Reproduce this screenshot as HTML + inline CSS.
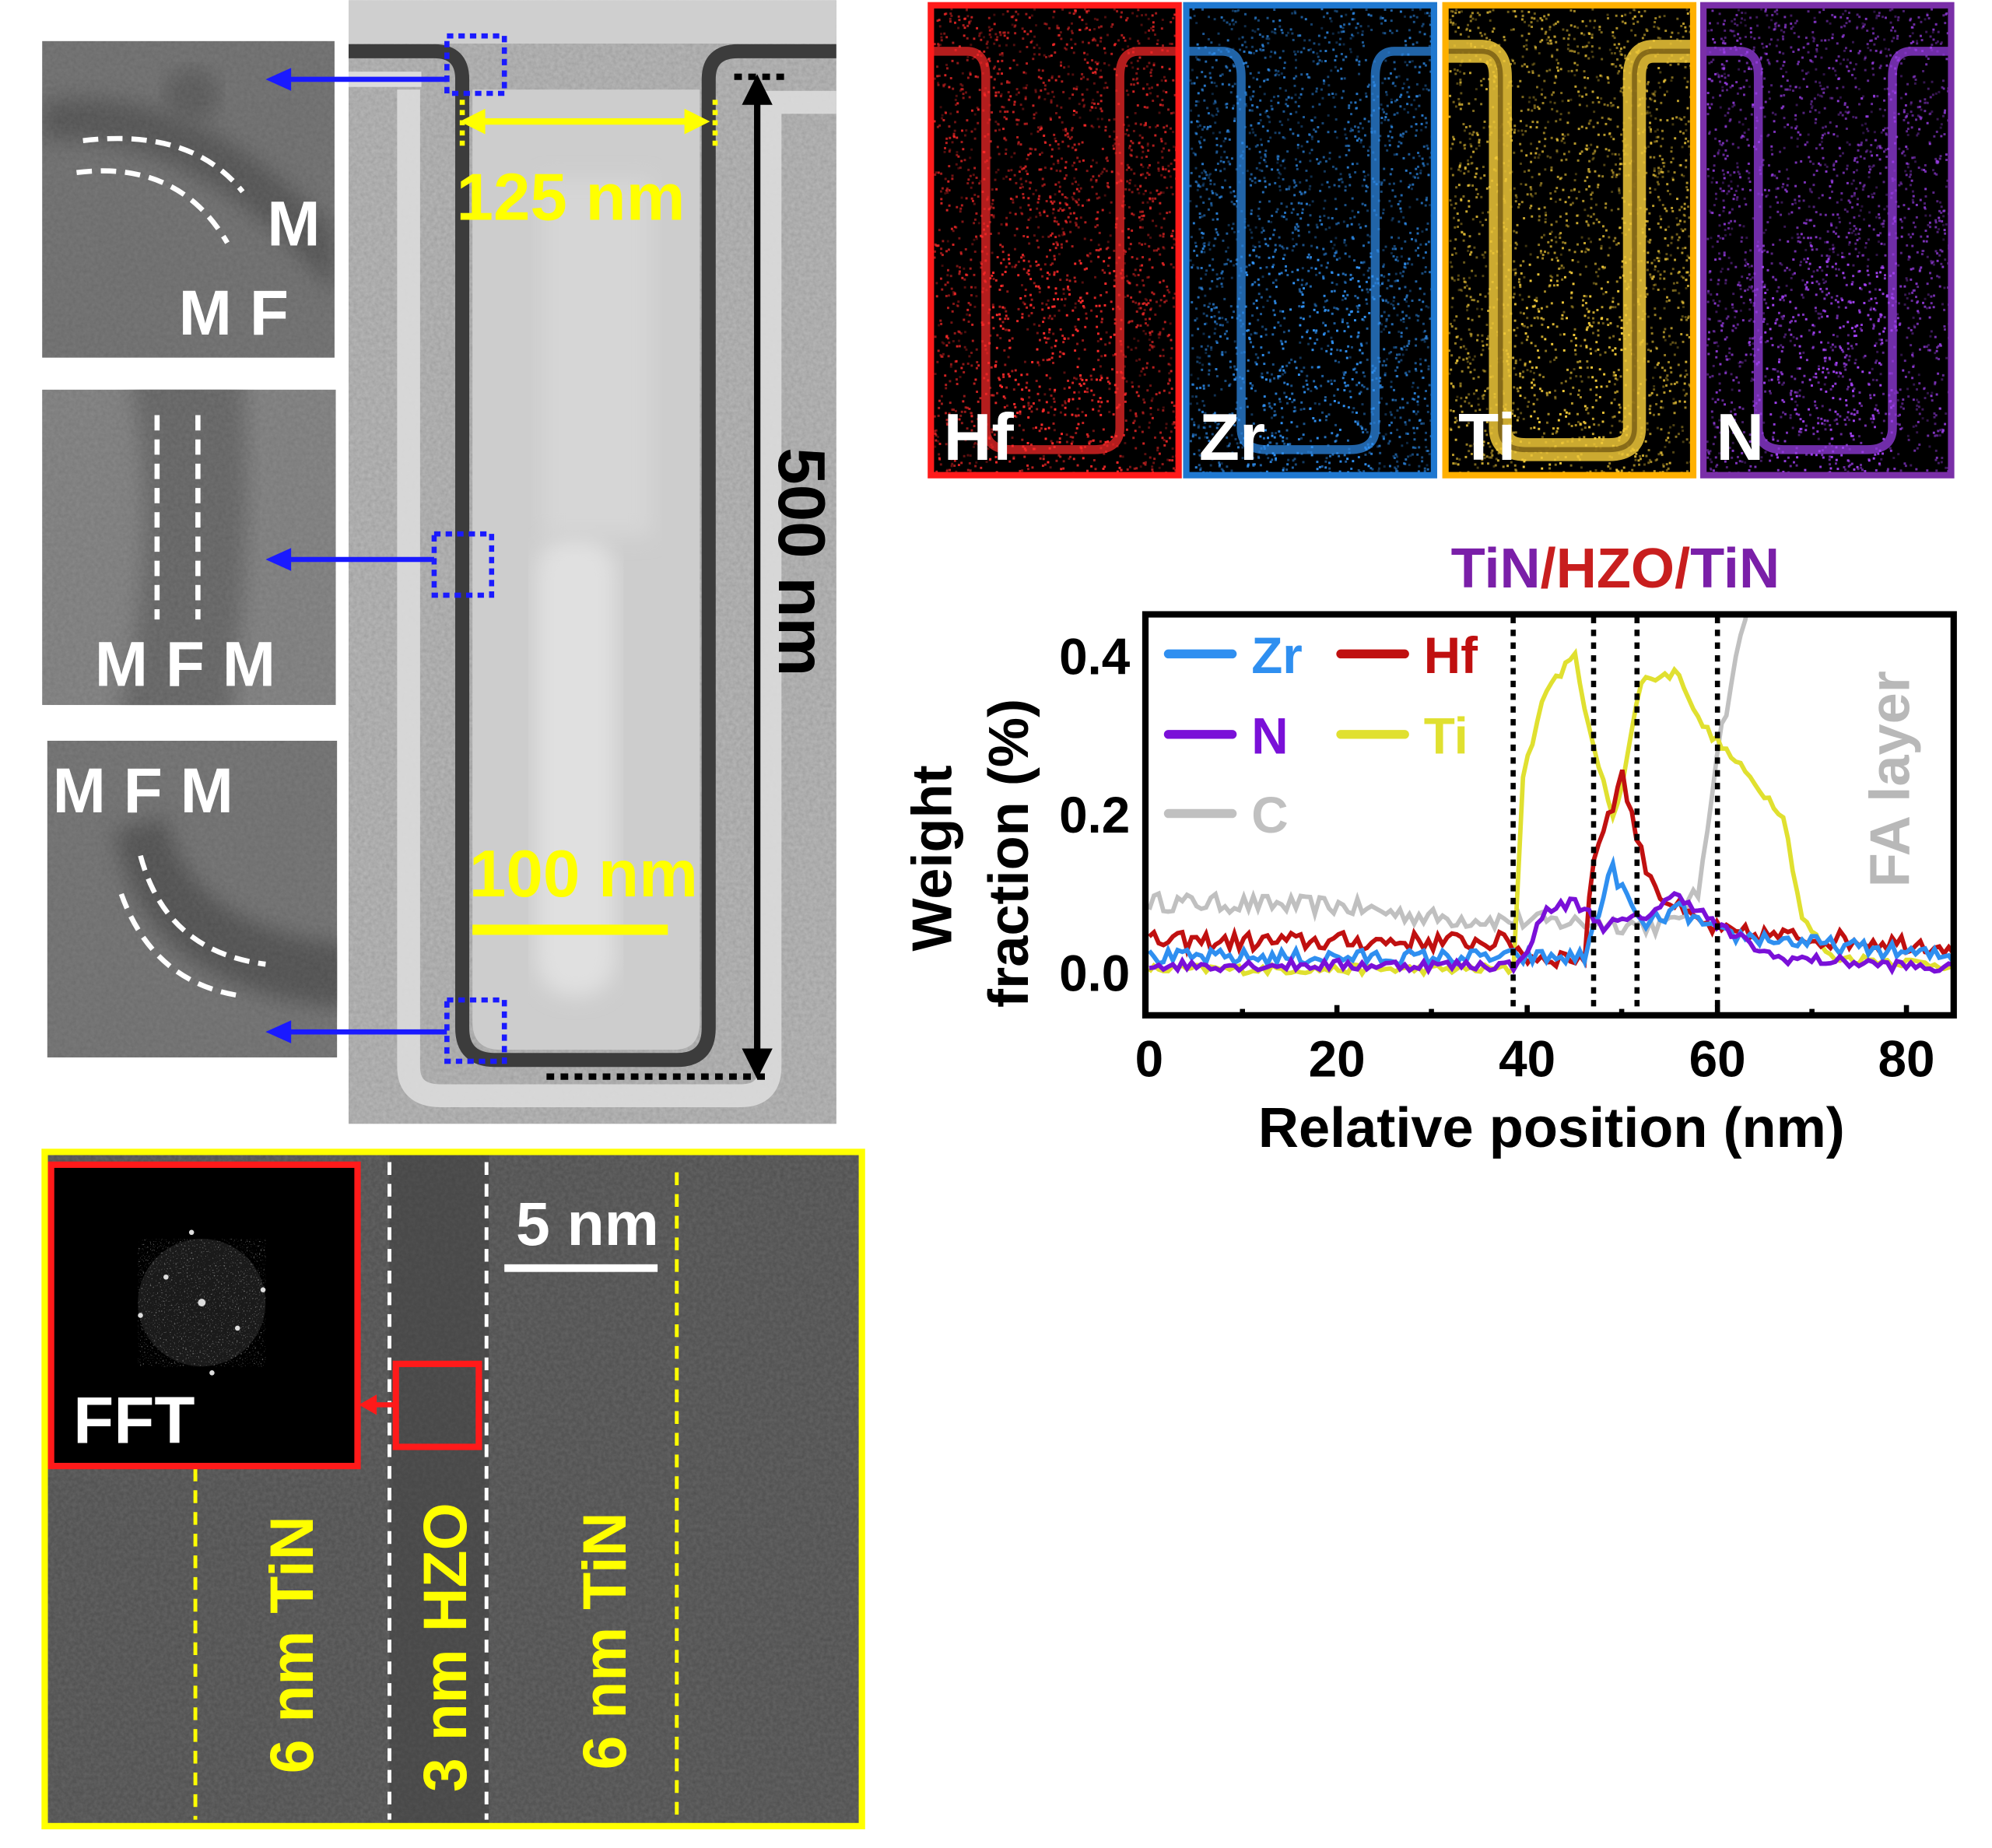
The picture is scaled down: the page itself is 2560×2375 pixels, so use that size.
<!DOCTYPE html>
<html><head><meta charset="utf-8">
<style>
html,body{margin:0;padding:0;background:#fff;}
svg{display:block;}
text{font-family:"Liberation Sans",Arial,sans-serif;font-weight:bold;}
</style></head>
<body>
<svg id="s" width="2560" height="2375" viewBox="0 0 1560 1447" xmlns="http://www.w3.org/2000/svg">
<defs>
 <filter id="n1" x="0" y="0" width="100%" height="100%">
  <feTurbulence type="fractalNoise" baseFrequency="0.35" numOctaves="2" seed="3"/>
  <feColorMatrix type="matrix" values="0 0 0 0 0.5  0 0 0 0 0.5  0 0 0 0 0.5  0 0 0 0.9 0"/>
  <feComposite in2="SourceGraphic" operator="in"/>
  <feBlend in="SourceGraphic" mode="multiply"/>
 </filter>
 <filter id="dots" x="0" y="0" width="100%" height="100%">
  <feTurbulence type="fractalNoise" baseFrequency="0.9" numOctaves="1" seed="7" result="t"/>
  <feColorMatrix in="t" type="matrix" values="0 0 0 0 1  0 0 0 0 1  0 0 0 0 1  6 0 0 0 -3.6"/>
 </filter>
 <filter id="bl"><feGaussianBlur stdDeviation="8"/></filter>
 <clipPath id="cc"><rect x="897" y="483" width="631" height="310"/></clipPath>
 <clipPath id="c1"><rect x="33" y="32" width="229" height="248"/></clipPath>
 <clipPath id="c2"><rect x="33" y="305" width="230" height="247"/></clipPath>
 <clipPath id="c3"><rect x="37" y="580" width="227" height="248"/></clipPath>
 <clipPath id="cm"><rect x="273" y="0" width="382" height="880"/></clipPath>
</defs>

<g clip-path="url(#cm)">
<rect x="273" y="0" width="382" height="880" fill="#b4b4b4"/>
<rect x="273" y="0" width="382" height="880" fill="#bcbcbc" filter="url(#n1)" opacity="0.6"/>
<rect x="273" y="0" width="382" height="34" fill="#cfcfcf"/>
<path d="M320,70 V835 Q320,858 345,858 H580 Q603,858 603,835 V80 H655" fill="none" stroke="#dcdcdc" stroke-width="18" opacity="0.9"/>
<path d="M273,62 H330" stroke="#dcdcdc" stroke-width="12"/>
<path d="M370,70 V800 Q370,822 392,822 H528 Q548,822 548,800 V70Z" fill="#cdcdcd"/>
<rect x="420" y="420" width="62" height="360" rx="28" fill="#e0e0e0" filter="url(#bl)"/>
<rect x="425" y="140" width="85" height="280" fill="#d6d6d6" filter="url(#bl)"/>
<path d="M273,40 H340 Q362,40 362,62 V805 Q362,830 388,830 H530 Q555,830 555,805 V62 Q555,40 578,40 H655" fill="none" stroke="#3c3c3c" stroke-width="11"/>
</g>

<g clip-path="url(#c1)">
 <rect x="33" y="32" width="229" height="248" fill="#7a7a7a"/>
 <path d="M33,110 Q150,100 262,230 V180 Q150,60 33,80Z" fill="#4a4a4a" filter="url(#bl)"/>
 <circle cx="150" cy="75" r="22" fill="#555" filter="url(#bl)"/>
 <rect x="33" y="32" width="229" height="248" fill="#777" filter="url(#n1)" opacity="0.5"/>
 <path d="M65,110 Q150,100 190,150" fill="none" stroke="#fff" stroke-width="4" stroke-dasharray="12,7"/>
 <path d="M60,135 Q140,125 178,190" fill="none" stroke="#fff" stroke-width="4" stroke-dasharray="12,7"/>
 <text x="230" y="192" font-size="50" fill="#fff" text-anchor="middle">M</text>
 <text x="183" y="262" font-size="50" fill="#fff" text-anchor="middle">M F</text>
</g>
<g clip-path="url(#c2)">
 <rect x="33" y="305" width="230" height="247" fill="#8a8a8a"/>
 <path d="M100,290 Q130,420 90,570 H180 Q200,420 190,290Z" fill="#5a5a5a" filter="url(#bl)"/>
 <rect x="33" y="305" width="230" height="247" fill="#888" filter="url(#n1)" opacity="0.5"/>
 <line x1="123" y1="325" x2="123" y2="485" stroke="#fff" stroke-width="4" stroke-dasharray="12,7"/>
 <line x1="155" y1="325" x2="155" y2="485" stroke="#fff" stroke-width="4" stroke-dasharray="12,7"/>
 <text x="145" y="537" font-size="50" fill="#fff" text-anchor="middle">M F M</text>
</g>
<g clip-path="url(#c3)">
 <rect x="37" y="580" width="227" height="248" fill="#7e7e7e"/>
 <path d="M90,650 Q110,780 280,790 V740 Q150,730 130,640Z" fill="#444" filter="url(#bl)"/>
 <rect x="37" y="580" width="227" height="248" fill="#777" filter="url(#n1)" opacity="0.5"/>
 <path d="M110,670 Q130,745 208,755" fill="none" stroke="#fff" stroke-width="4" stroke-dasharray="12,7"/>
 <path d="M95,700 Q120,770 190,780" fill="none" stroke="#fff" stroke-width="4" stroke-dasharray="12,7"/>
 <text x="112" y="636" font-size="50" fill="#fff" text-anchor="middle">M F M</text>
</g>

<g fill="none" stroke="#1a1aff" stroke-width="4" stroke-dasharray="5,4">
 <rect x="350" y="28" width="45" height="45"/>
 <rect x="340" y="418" width="45" height="48"/>
 <rect x="350" y="783" width="45" height="48"/>
</g>
<g stroke="#1a1aff" stroke-width="4" fill="#1a1aff">
 <line x1="350" y1="62" x2="225" y2="62"/><polygon points="208,62 228,53 228,71" stroke="none"/>
 <line x1="340" y1="438" x2="225" y2="438"/><polygon points="208,438 228,429 228,447" stroke="none"/>
 <line x1="350" y1="808" x2="225" y2="808"/><polygon points="208,808 228,799 228,817" stroke="none"/>
</g>
<line x1="378" y1="95" x2="540" y2="95" stroke="#ffff00" stroke-width="5"/>
<polygon points="360,95 380,85 380,105" fill="#ffff00"/><polygon points="556,95 536,85 536,105" fill="#ffff00"/>
<line x1="362" y1="78" x2="362" y2="115" stroke="#ffff00" stroke-width="4" stroke-dasharray="4,4"/>
<line x1="560" y1="78" x2="560" y2="115" stroke="#ffff00" stroke-width="4" stroke-dasharray="4,4"/>
<text x="447" y="172" font-size="52" fill="#ffff00" text-anchor="middle">125 nm</text>
<line x1="575" y1="60" x2="615" y2="60" stroke="#000" stroke-width="5" stroke-dasharray="6,5"/>
<line x1="428" y1="843" x2="600" y2="843" stroke="#000" stroke-width="5" stroke-dasharray="6,5"/>
<line x1="593" y1="78" x2="593" y2="825" stroke="#000" stroke-width="5"/>
<polygon points="593,58 581,82 605,82" fill="#000"/><polygon points="593,845 581,821 605,821" fill="#000"/>
<text transform="translate(610,440) rotate(90)" font-size="52" fill="#000" text-anchor="middle">500 nm</text>
<text x="457" y="702" font-size="52" fill="#ffff00" text-anchor="middle">100 nm</text>
<rect x="370" y="724" width="153" height="8" fill="#ffff00"/>

<rect x="35" y="902" width="640" height="528" fill="#575757"/>
<rect x="35" y="902" width="640" height="528" fill="#666" filter="url(#n1)" opacity="0.9"/>
<rect x="305" y="902" width="78" height="528" fill="#3e3e3e" opacity="0.5"/>
<rect x="35" y="902" width="640" height="528" fill="none" stroke="#ffff00" stroke-width="5"/>
<g stroke="#ffff00" stroke-width="3" stroke-dasharray="10,7">
 <line x1="153" y1="1150" x2="153" y2="1425"/><line x1="530" y1="918" x2="530" y2="1425"/>
</g>
<g stroke="#fff" stroke-width="3" stroke-dasharray="10,7">
 <line x1="305" y1="910" x2="305" y2="1425"/><line x1="381" y1="910" x2="381" y2="1425"/>
</g>
<text transform="translate(245,1288) rotate(-90)" font-size="48" fill="#ffff00" text-anchor="middle">6 nm TiN</text>
<text transform="translate(365,1290) rotate(-90)" font-size="48" fill="#ffff00" text-anchor="middle">3 nm HZO</text>
<text transform="translate(490,1285) rotate(-90)" font-size="48" fill="#ffff00" text-anchor="middle">6 nm TiN</text>
<text x="460" y="975" font-size="48" fill="#fff" text-anchor="middle">5 nm</text>
<rect x="395" y="990" width="120" height="6" fill="#fff"/>
<rect x="310" y="1068" width="65" height="65" fill="none" stroke="#ff1a1a" stroke-width="5"/>
<line x1="310" y1="1100" x2="292" y2="1100" stroke="#ff1a1a" stroke-width="4"/>
<polygon points="281,1100 295,1092 295,1108" fill="#ff1a1a"/>
<rect x="40" y="912" width="240" height="236" fill="#000" stroke="#ff1a1a" stroke-width="5"/>
<circle cx="158" cy="1020" r="50" fill="#1a1a1a"/>
<circle cx="158" cy="1020" r="50" fill="#fff" filter="url(#dots)" opacity="0.4"/>
<g fill="#ddd"><circle cx="158" cy="1020" r="3"/><circle cx="130" cy="1000" r="2"/><circle cx="186" cy="1040" r="2"/><circle cx="150" cy="965" r="2"/><circle cx="166" cy="1075" r="2"/><circle cx="110" cy="1030" r="2"/><circle cx="206" cy="1010" r="2"/></g>
<text x="105" y="1130" font-size="52" fill="#fff" text-anchor="middle">FFT</text>

<g id="eds"></g>

<text x="1265" y="460" font-size="44" text-anchor="middle"><tspan fill="#7a1fa8">TiN</tspan><tspan fill="#c81e1e">/HZO/</tspan><tspan fill="#7a1fa8">TiN</tspan></text>
<g id="curves" clip-path="url(#cc)"></g>
<g stroke="#000" stroke-width="4" stroke-dasharray="5,5">
 <line x1="1185" y1="483" x2="1185" y2="793"/><line x1="1248" y1="483" x2="1248" y2="793"/>
 <line x1="1282" y1="483" x2="1282" y2="793"/><line x1="1345" y1="483" x2="1345" y2="793"/>
</g>
<rect x="897" y="481" width="633" height="314" fill="none" stroke="#000" stroke-width="5"/>
<g stroke="#000" stroke-width="4">
 <line x1="1047" y1="795" x2="1047" y2="787"/><line x1="1196" y1="795" x2="1196" y2="787"/><line x1="1345" y1="795" x2="1345" y2="787"/><line x1="1493" y1="795" x2="1493" y2="787"/>
 <line x1="973" y1="795" x2="973" y2="790"/><line x1="1121" y1="795" x2="1121" y2="790"/><line x1="1270" y1="795" x2="1270" y2="790"/><line x1="1419" y1="795" x2="1419" y2="790"/>
</g>
<g font-size="40" fill="#000" text-anchor="middle">
 <text x="900" y="843">0</text><text x="1047" y="843">20</text><text x="1196" y="843">40</text><text x="1345" y="843">60</text><text x="1493" y="843">80</text>
</g>
<g font-size="40" fill="#000" text-anchor="end">
 <text x="885" y="528">0.4</text><text x="885" y="652">0.2</text><text x="885" y="776">0.0</text>
</g>
<text x="1215" y="898" font-size="44" text-anchor="middle">Relative position (nm)</text>
<text transform="translate(745,672) rotate(-90)" font-size="44" text-anchor="middle">Weight</text>
<text transform="translate(805,668) rotate(-90)" font-size="44" text-anchor="middle">fraction (%)</text>
<text transform="translate(1495,610) rotate(-90)" font-size="44" fill="#b8b8b8" text-anchor="middle">FA layer</text>
<g stroke-width="7" stroke-linecap="round">
 <line x1="915" y1="512" x2="965" y2="512" stroke="#2f8ff0"/>
 <line x1="1050" y1="512" x2="1100" y2="512" stroke="#c01010"/>
 <line x1="915" y1="575" x2="965" y2="575" stroke="#7a10d8"/>
 <line x1="1050" y1="575" x2="1100" y2="575" stroke="#e0e030"/>
 <line x1="915" y1="637" x2="965" y2="637" stroke="#c0c0c0"/>
</g>
<g font-size="40">
 <text x="980" y="527" fill="#2f8ff0">Zr</text><text x="1115" y="527" fill="#c01010">Hf</text>
 <text x="980" y="590" fill="#7a10d8">N</text><text x="1115" y="590" fill="#e0e030">Ti</text>
 <text x="980" y="652" fill="#c0c0c0">C</text>
</g>
</svg>
<script>
(function(){
var NS="http://www.w3.org/2000/svg";
var seed=12345;function r(){seed=(seed*16807)%2147483647;return seed/2147483647;}
function interp(pts,x){for(var i=0;i<pts.length-1;i++){if(x>=pts[i][0]&&x<=pts[i+1][0]){var t=(x-pts[i][0])/(pts[i+1][0]-pts[i][0]);return pts[i][1]+t*(pts[i+1][1]-pts[i][1]);}}return pts[pts.length-1][1];}
var curves=[
 ["#c0c0c0",[[0,0.09],[20,0.085],[30,0.07],[55,0.06],[58,0.1],[60,0.28],[63,0.45],[66,0.6]],0.012,66],
 ["#e0e030",[[0,0.005],[38.5,0.005],[39.5,0.25],[42,0.36],[45,0.4],[47,0.28],[49,0.2],[50,0.24],[52,0.37],[56,0.38],[58,0.32],[61,0.28],[64,0.24],[67,0.2],[69,0.07],[72,0.02],[85,0.01]],0.006,85],
 ["#c01010",[[0,0.04],[38,0.04],[40,0.02],[46,0.02],[47,0.15],[50,0.25],[52,0.15],[54,0.1],[57,0.07],[61,0.05],[85,0.035]],0.012,85],
 ["#2f8ff0",[[0,0.02],[46,0.02],[48,0.1],[49,0.13],[52,0.06],[56,0.08],[60,0.05],[85,0.02]],0.01,85],
 ["#7a10d8",[[0,0.01],[39,0.01],[42,0.08],[45,0.09],[48,0.06],[52,0.07],[56,0.1],[60,0.06],[66,0.02],[85,0.005]],0.007,85]
];
var g=document.getElementById("curves");
curves.forEach(function(c){var p=[];for(var x=0;x<=c[3];x+=0.5){var v=interp(c[1],x)+(r()-0.5)*2*c[2];p.push((900+7.41*x).toFixed(1)+","+(762-620*v).toFixed(1));}
var pl=document.createElementNS(NS,"polyline");pl.setAttribute("points",p.join(" "));pl.setAttribute("fill","none");pl.setAttribute("stroke",c[0]);pl.setAttribute("stroke-width","3.5");g.appendChild(pl);});
var e=document.getElementById("eds");
var maps=[[727,"#ff1a1a","#ff2a2a","Hf"],[927,"#1f78d0","#2f8ff0","Zr"],[1130,"#ffb000","#f0c838","Ti"],[1332,"#7a2fa8","#a040f0","N"]];
maps.forEach(function(m,i){var x=m[0],w=198;
 function el(t,a){var o=document.createElementNS(NS,t);for(var k in a)o.setAttribute(k,a[k]);e.appendChild(o);return o;}
 el("rect",{x:x,y:2,width:w,height:372,fill:"#000"});
 var d="M"+(x)+",40 H"+(x+30)+" Q"+(x+45)+",40 "+(x+45)+",60 V335 Q"+(x+45)+",352 "+(x+65)+",352 H"+(x+130)+" Q"+(x+150)+",352 "+(x+150)+",335 V60 Q"+(x+150)+",40 "+(x+165)+",40 H"+(x+w);
 for(var k=0;k<2200;k++){var rx=x+4+r()*(w-8),ry=6+r()*364;var lower=ry>200&&rx>x+45&&rx<x+150?1.3:1;el("rect",{x:rx.toFixed(1),y:ry.toFixed(1),width:1.8,height:1.8,fill:m[2],opacity:(Math.min(1,(0.25+r()*0.6)*lower)).toFixed(2)});}
 if(i==2){el("path",{d:d,fill:"none",stroke:m[2],"stroke-width":18,opacity:0.85});el("path",{d:d,fill:"none",stroke:"#6a5010","stroke-width":4,opacity:0.7});}
 else el("path",{d:d,fill:"none",stroke:m[2],"stroke-width":7,opacity:0.7});
 el("rect",{x:x+2,y:4,width:w-4,height:368,fill:"none",stroke:m[1],"stroke-width":5});
 var t=el("text",{x:x+12,y:360,"font-size":52,fill:"#fff"});t.textContent=m[3];
});
})();
</script>
</body></html>
